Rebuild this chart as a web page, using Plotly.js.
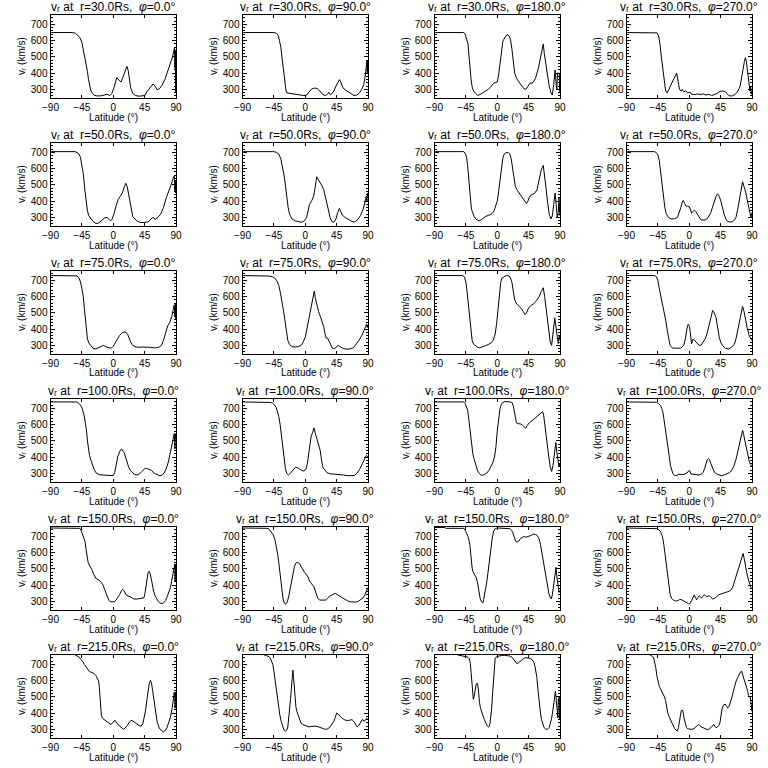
<!DOCTYPE html>
<html>
<head>
<meta charset="utf-8">
<script src="https://cdn.plot.ly/plotly-3.0.1.min.js"></script>
<style>html,body{margin:0;padding:0;background:#fff;}#chart{width:768px;height:768px;}</style>
</head>
<body>
<div id="chart"></div>
<script>
// ---- data: [latitude (deg), v_r (km/s)] ----
const radii = [30, 50, 75, 100, 150, 215];
const phis = [0, 90, 180, 270];
const latTicks = [-90, -45, 0, 45, 90];
const vTicks = [300, 400, 500, 600, 700];

const r30_phi0 = [[-90,650],[-58,650],[-54,645],[-51,635],[-48,620],[-45,590],[-43,545],[-40.5,500],[-38.5,440],[-37,410],[-35.5,360],[-34,320],[-32,290],[-30,275],[-27.5,265],[-24,260],[-18,260],[-13,265],[-9,270],[-5,262],[-2,275],[1,310],[3,345],[5,372],[8,358],[11,345],[14,375],[17,420],[19.5,442],[21.5,415],[23,365],[25,310],[28,275],[32,262],[37,258],[42,258],[45,262],[49,290],[53,315],[57,333],[60,320],[63,298],[66,303],[70,325],[74,360],[78,410],[82,455],[85,500],[87,540],[88,560],[88.5,430],[89,540],[89.5,280],[90,510]];
const r30_phi90 = [[-90,650],[-45,650],[-41,645],[-38.5,630],[-37,600],[-35,560],[-33.5,500],[-32,440],[-30.5,380],[-29,320],[-27.5,290],[-26,278],[-22,275],[-18,275],[-14,270],[-10,268],[-6,265],[-2,262],[2,265],[6,285],[9,302],[13,308],[17,306],[21,290],[25,268],[29,262],[32,270],[34,282],[36,268],[38,272],[41,290],[44,320],[47,350],[49,360],[51,345],[54,310],[58,295],[62,285],[66,270],[70,262],[74,265],[78,280],[81,300],[84,330],[86,380],[87.5,440],[88.5,475],[89,400],[89.5,480],[90,420]];
const r30_phi180 = [[-90,650],[-48,650],[-46,640],[-44,615],[-42,580],[-41,530],[-40,470],[-39,420],[-37.5,360],[-36,315],[-34,290],[-31,275],[-28,263],[-25,268],[-21,278],[-17,288],[-13,300],[-9,318],[-5,338],[-2,342],[0,345],[2,390],[4,470],[6,550],[8,595],[11,620],[14,638],[17,630],[19,605],[21,550],[23,470],[25,400],[28,365],[32,340],[36,318],[38,305],[41,300],[44,320],[47,338],[51,340],[55,370],[59,430],[62,500],[64.5,560],[66,580],[67.5,520],[70,440],[72,380],[74.5,320],[77,280],[79,265],[81,330],[83,420],[84.5,330],[85.5,300],[86.5,400],[89,400],[89.5,290],[90,275]];
const r30_phi270 = [[-90,650],[-50,650],[-46,648],[-44,630],[-42,580],[-40,500],[-38,420],[-36,340],[-34,295],[-32,278],[-29,300],[-25,340],[-21,380],[-18,400],[-16,350],[-14,300],[-12,290],[-10,300],[-8,285],[-5,290],[-2,278],[1,282],[4,270],[8,268],[12,272],[16,268],[20,272],[24,265],[28,270],[32,262],[36,268],[40,275],[44,288],[48,290],[52,285],[55,268],[58,260],[62,260],[66,270],[70,290],[73,320],[75,360],[77,420],[79,470],[80.5,495],[82,470],[84,400],[85.5,330],[87,290],[88,320],[89,270],[90,290]];

const r50_phi0 = [[-90,705],[-55,705],[-52,700],[-49,690],[-47,670],[-45,630],[-43,570],[-41,480],[-39,400],[-37,340],[-35,310],[-32,290],[-29,275],[-26,265],[-23,262],[-20,268],[-16,285],[-12,298],[-9,300],[-6,290],[-4,280],[-2,285],[1,320],[4,370],[7,410],[10,430],[13,450],[16,490],[18,510],[20,490],[22,440],[24,380],[26,330],[28,305],[31,290],[35,275],[40,268],[45,268],[50,272],[54,290],[57,300],[60,288],[64,300],[68,320],[72,360],[76,420],[80,460],[83,500],[86,540],[87.5,555],[88.5,460],[89.2,530],[89.6,450],[90,500]];
const r50_phi90 = [[-90,705],[-45,705],[-41,700],[-38,690],[-35,660],[-32,600],[-30,550],[-28.5,500],[-26.5,420],[-24.5,360],[-22.5,320],[-19,290],[-14,278],[-9,272],[-5,270],[-1,280],[2,300],[4,340],[6,380],[9,400],[12,430],[14,480],[16.5,550],[19,530],[21.5,515],[24,495],[26.5,470],[29,430],[31,400],[33,350],[35.5,300],[38,275],[41,270],[44,290],[46.5,330],[49,355],[51,335],[53,315],[57,300],[62,285],[67,275],[71,272],[75,285],[79,310],[83,350],[86,400],[87.5,430],[88.5,400],[89.5,450],[90,420]];
const r50_phi180 = [[-90,705],[-48,705],[-46,695],[-44,670],[-42.5,620],[-41,560],[-40,500],[-38.5,420],[-37,350],[-35,320],[-33,305],[-31,290],[-28.5,285],[-26,278],[-23,285],[-20,295],[-17,305],[-13,312],[-9,318],[-5,335],[-2,370],[0,400],[2,460],[4,540],[6,610],[8,665],[10,690],[13,700],[16,698],[18,690],[20,660],[22,600],[24,530],[26,490],[29,465],[32,445],[36,420],[39,400],[42,385],[44,400],[46,425],[49,440],[53,445],[57,470],[60,540],[63,590],[66,620],[68,560],[70,480],[72,400],[74.5,320],[77,290],[79,310],[81,380],[83,450],[84.5,380],[86,300],[87.5,330],[88.5,420],[89.5,340],[90,310]];
const r50_phi270 = [[-90,705],[-50,705],[-47.5,700],[-45,685],[-43,650],[-41,580],[-39,500],[-37,420],[-35,360],[-33,322],[-30,300],[-26,290],[-21,292],[-17,300],[-14,330],[-12,360],[-10,395],[-8.6,405],[-6.5,385],[-4.8,370],[-2,368],[0,365],[2,345],[3.3,325],[5,335],[7.2,345],[9.5,335],[12,320],[14.5,300],[16.7,285],[20,283],[23.9,285],[27,300],[31,330],[33.5,365],[36,400],[38.5,430],[40.6,445],[43,430],[45.4,400],[48,350],[50,320],[52.5,290],[55,275],[58,272],[62,272],[65,285],[67,300],[69.5,350],[71.7,400],[74,460],[76.5,520],[78.5,490],[81.3,450],[83.5,400],[86,350],[88.5,300],[90,330]];

const r75_phi0 = [[-90,730],[-55,730],[-52,728],[-49,715],[-47,690],[-45,650],[-43,600],[-41.5,530],[-40,450],[-38.5,380],[-37,340],[-35,315],[-32,295],[-29,282],[-25,278],[-21,285],[-17,295],[-14,300],[-11,292],[-7,285],[-3,282],[0,295],[3,320],[6,345],[9,360],[12,375],[15,382],[18,382],[21,365],[24,330],[27,305],[31,292],[36,288],[42,290],[48,290],[54,288],[58,285],[62,285],[66,290],[69,300],[72,330],[75,380],[78,420],[81,440],[84,480],[86.5,530],[87.5,550],[88.5,480],[89.3,560],[89.7,460],[90,520]];
const r75_phi90 = [[-90,730],[-58,730],[-52,727],[-47,722],[-44,715],[-41,700],[-38,670],[-35.5,620],[-33,570],[-31,510],[-29,450],[-27,380],[-25,330],[-22.5,305],[-19,292],[-14,290],[-10,292],[-6,300],[-3,320],[0,350],[3,420],[6,490],[9,560],[11,610],[13,635],[14.5,590],[16.5,550],[19,510],[21.5,480],[24,450],[26.5,415],[28.5,370],[30,345],[32,345],[34,325],[36.5,300],[39,283],[42,280],[45,288],[47.5,300],[50,292],[53,284],[58,277],[64,278],[69,285],[73,305],[77,330],[81,360],[85,400],[88,430],[89,410],[90,425]];
const r75_phi180 = [[-90,730],[-49,730],[-47,720],[-45,690],[-43.5,640],[-42,580],[-40.5,500],[-39,430],[-37.5,370],[-36,330],[-34,308],[-31,295],[-28,288],[-25,285],[-21,290],[-17,298],[-13,305],[-9,315],[-6,330],[-3,370],[-1,430],[1,520],[3,620],[5,690],[7,715],[10,725],[13,730],[17,728],[19,715],[21,690],[23,630],[25,580],[28,555],[31,545],[34,530],[37,510],[40,490],[42,500],[45,530],[48,545],[52,555],[56,575],[60,600],[63,630],[66,655],[68,600],[70,520],[72,450],[74,380],[76,320],[78,300],[80,380],[82.5,470],[84,420],[86,350],[87.5,310],[89,360],[90,330]];
const r75_phi270 = [[-90,730],[-50,730],[-47.5,725],[-45,700],[-43,650],[-40.5,600],[-38,550],[-35.5,500],[-33.5,450],[-31.5,390],[-30,350],[-27.5,300],[-24,283],[-18,282],[-12,283],[-8,300],[-5.5,340],[-3.5,400],[-1.5,430],[0.5,415],[2,370],[3.3,310],[5.7,340],[8,328],[10,318],[14,300],[17,302],[20,318],[23,340],[26,380],[28.7,420],[31,470],[33.5,515],[36,500],[38.5,470],[41,400],[43,350],[45.5,315],[48,298],[52,282],[57,278],[61,290],[64.5,305],[67,340],[69.5,390],[71.5,440],[73.5,490],[76.5,540],[78.5,510],[80,470],[83,410],[86,360],[88,340],[90,330]];

const r100_phi0 = [[-90,740],[-53,740],[-50,735],[-47,720],[-44.5,700],[-42,660],[-40,610],[-38.5,570],[-37,500],[-35.5,440],[-34,410],[-32,380],[-30,355],[-27,320],[-24,300],[-20,292],[-15,290],[-10,288],[-5,285],[0,286],[2,305],[3.5,330],[5,370],[6.5,405],[8.5,430],[10.5,445],[12,450],[14,440],[16,425],[18,395],[20,365],[22,340],[24.5,318],[27,305],[30,295],[34,290],[38,298],[41,312],[44,325],[46,332],[48,330],[51,325],[55,318],[59,300],[63,292],[67,285],[70,290],[73,302],[76,330],[79,370],[81.5,420],[84,470],[86,510],[87.5,545],[88.5,450],[89.2,545],[89.7,470],[90,520]];
const r100_phi90 = [[-90,740],[-55,740],[-50,737],[-47,733],[-44,722],[-41.5,705],[-39.5,680],[-38,650],[-36,600],[-34.5,540],[-33,480],[-31.5,410],[-30,360],[-28.5,330],[-26.5,300],[-24,290],[-21.5,300],[-19,315],[-16.5,330],[-14,338],[-11,335],[-8,325],[-5,318],[-2,315],[1,325],[3,360],[5,420],[7,490],[8.5,530],[10.5,550],[12.5,580],[14.5,545],[16.5,515],[19,480],[21.5,440],[23.5,380],[25.5,335],[28,322],[31,305],[35,298],[40,297],[45,296],[50,293],[55,290],[60,286],[65,284],[70,286],[74,300],[78,325],[82,360],[85,390],[87.5,410],[89,405],[90,400]];
const r100_phi180 = [[-90,740],[-48,740],[-46,730],[-44,710],[-42.5,690],[-41,640],[-39.5,580],[-38,520],[-36.5,460],[-35,420],[-33,385],[-31,350],[-28.5,320],[-26,300],[-23.5,290],[-21,288],[-18,293],[-15,302],[-12,318],[-9,340],[-6.5,365],[-4,400],[-2,460],[0,560],[2,640],[4,700],[6,725],[8,738],[11,742],[15,742],[19,740],[21.5,735],[23,715],[24.5,680],[26,640],[27.5,612],[30,606],[33,605],[36,598],[39,585],[41,578],[43,595],[46,612],[50,625],[54,640],[58,655],[62,670],[65,680],[66.5,660],[68,600],[70,530],[72,460],[74,400],[76,340],[78,312],[80,350],[82,420],[84,490],[85.5,430],[87,370],[88.5,340],[89.5,360],[90,350]];
const r100_phi270 = [[-90,740],[-50,740],[-47,738],[-44,730],[-41.5,720],[-39.5,700],[-38,680],[-36.5,640],[-35,600],[-33.5,560],[-32,520],[-30.5,460],[-28.5,400],[-27,350],[-25.3,320],[-23.5,298],[-21,288],[-18,287],[-15,295],[-12,294],[-9,292],[-6,298],[-3,302],[-1,315],[0.5,318],[2.5,296],[6,293],[10,292],[14,290],[17,295],[20,305],[22,330],[24,362],[26,385],[27.5,392],[29,385],[31,360],[33.5,330],[36,308],[39,298],[43,290],[46,285],[50,290],[54,298],[58,305],[61,320],[64,345],[67,385],[70,440],[73,500],[75,540],[76.5,565],[78,540],[80,495],[82,450],[84,410],[86,375],[88,355],[90,340]];

const r150_phi0 = [[-90,752],[-48,750],[-46.5,740],[-45,725],[-43.5,710],[-42,690],[-40.5,670],[-39,620],[-37.5,570],[-36,540],[-34.5,525],[-32.5,510],[-30.5,495],[-28.5,470],[-26.5,450],[-24.5,440],[-22,435],[-19.5,428],[-17,415],[-14.5,400],[-12.5,375],[-10.5,350],[-8.5,325],[-6.5,308],[-4,297],[-1,295],[1.5,298],[4,308],[7,325],[10,348],[12,368],[13.5,375],[15,368],[17,352],[19,338],[22,332],[25,328],[28,318],[31,314],[35,315],[38,318],[41,320],[44,322],[45.5,350],[47,400],[48.5,450],[50,478],[51.5,485],[53,470],[54.5,440],[56,400],[58,360],[60,335],[62,315],[64.5,300],[67,290],[70,285],[72.5,292],[75,305],[77.5,330],[80,360],[82,385],[84,430],[85.5,470],[87,510],[88.3,530],[88.8,420],[89.4,530],[90,440]];
const r150_phi90 = [[-90,752],[-55,750],[-52,745],[-49,730],[-46,710],[-43.5,680],[-41.5,640],[-39.5,590],[-38,540],[-36.5,480],[-35,420],[-33.5,360],[-32,320],[-30.5,295],[-28.7,283],[-27,288],[-25.5,300],[-23.5,335],[-21.5,380],[-19.5,430],[-17.5,480],[-15.5,515],[-13.5,535],[-12,540],[-10,538],[-8,532],[-6,515],[-3.5,495],[-1,478],[1.5,465],[4,450],[6,425],[8,412],[10.5,404],[12.5,390],[14,370],[16,340],[18,318],[21,308],[25,307],[29,308],[32,318],[35,333],[38,338],[41,345],[43,350],[45.5,342],[48,335],[52,325],[56,318],[60,305],[64,298],[68,295],[72,296],[76,300],[80,310],[83,322],[85.5,340],[87.5,360],[89,375],[90,385]];
const r150_phi180 = [[-90,755],[-75,755],[-74,750],[-48,750],[-46,738],[-44,720],[-42,700],[-40.5,675],[-39,640],[-38,590],[-37,545],[-36,505],[-34.5,480],[-33,470],[-31.5,458],[-30,445],[-28.5,420],[-27.3,390],[-26.2,350],[-24.5,318],[-22.5,298],[-20.8,290],[-19.5,310],[-18,340],[-16.5,380],[-15,420],[-13.5,470],[-12,525],[-10.5,590],[-9,640],[-7,695],[-5,735],[-3,748],[0,752],[5,752],[10,751],[14.5,750],[18,748],[20.5,738],[22.5,722],[24.5,695],[26.5,670],[28.5,665],[31,672],[33.5,688],[36,695],[38.5,700],[41,695],[44,698],[48,706],[52,714],[55,712],[57.5,705],[60,685],[62,650],[64,600],[66,530],[68,480],[70,440],[72,395],[74,350],[76,322],[77.5,315],[79,340],[80.5,380],[82,440],[83.2,480],[84.3,510],[85.3,460],[86.3,415],[87.5,375],[88.6,355],[89.5,365],[90,360]];
const r150_phi270 = [[-90,752],[-50,750],[-47,748],[-44,742],[-41.5,732],[-39.5,712],[-38,690],[-36.5,650],[-35,600],[-33.5,550],[-32,500],[-30.5,440],[-29,390],[-27.5,345],[-25.5,320],[-23.5,310],[-21,305],[-18.5,302],[-16,305],[-13.5,312],[-11,310],[-8.5,303],[-6,296],[-3,290],[-1,286],[0.5,285],[2,292],[3.5,305],[5.5,325],[7.2,340],[8.7,325],[10.5,310],[12.5,325],[14.3,335],[16,328],[17.7,320],[19.5,330],[21.5,340],[23,335],[25,328],[27,332],[28.7,336],[31,325],[33.5,315],[36.5,318],[39,328],[41.5,338],[45,345],[49,350],[53,356],[57,362],[60.5,372],[63,395],[65,425],[67,455],[69,485],[71,515],[73,545],[75,570],[77.3,595],[79,560],[80.5,515],[82.5,475],[84.5,440],[86.5,410],[88.5,385],[90,375]];

const r215_phi0 = [[-90,775],[-60,772],[-55,760],[-52,753],[-49,745],[-46.5,732],[-44,720],[-41.5,700],[-39,682],[-36.5,665],[-34,655],[-31,651],[-28,645],[-25,632],[-22.5,615],[-21,598],[-20,560],[-19,500],[-18,430],[-17,385],[-15.5,368],[-13,360],[-10,350],[-7,340],[-4,332],[-2,335],[0,348],[2.5,356],[5,338],[8,325],[11,313],[14.5,300],[17,308],[20,322],[23,345],[25.5,356],[28,352],[31,345],[34,333],[37,323],[40,320],[42.5,335],[44.5,370],[46.5,420],[48.5,490],[50.5,560],[52,590],[53.5,602],[55,580],[56.5,540],[58,490],[59.5,440],[61,395],[63,345],[66,308],[69,292],[72,285],[74.5,292],[77,310],[79.5,340],[82,375],[84.5,430],[86.5,500],[87.5,530],[88.3,500],[88.8,430],[89.4,530],[90,470]];
const r215_phi90 = [[-90,775],[-62,770],[-59.5,760],[-55,755],[-52,748],[-50,738],[-48,720],[-46.5,700],[-45,660],[-43.5,610],[-42,560],[-40.5,510],[-38.7,450],[-36.5,390],[-34.5,350],[-32.5,315],[-30.5,297],[-28.5,290],[-26.5,295],[-25,315],[-23.8,360],[-22.5,420],[-21,490],[-19.8,560],[-18.7,630],[-17.7,665],[-16.8,620],[-15.8,560],[-14.6,480],[-13.4,440],[-12,410],[-10,385],[-8,355],[-6,338],[-3.5,330],[-1,325],[2,318],[5,315],[8,318],[11,320],[14,320],[17,318],[20,315],[23,311],[26,305],[29,300],[32,303],[35,312],[38,328],[41,350],[43,372],[45,400],[47,395],[49.5,382],[52,372],[55,362],[58,356],[62,355],[65,358],[67,360],[69,352],[71,338],[73,322],[74.5,315],[76.5,322],[78.5,338],[80.5,355],[82,362],[84,350],[86,355],[88,368],[90,360]];
const r215_phi180 = [[-90,775],[-62,770],[-58,760],[-54,756],[-50,753],[-45,750],[-42,745],[-40,735],[-38.5,705],[-37.5,650],[-36.5,590],[-35.7,510],[-34.3,485],[-33.3,500],[-32.3,530],[-31.3,560],[-30.3,575],[-29.3,585],[-28.3,578],[-27.3,555],[-26.5,510],[-25.5,465],[-24,430],[-22.5,405],[-20.5,385],[-18.5,360],[-16.5,338],[-14.5,322],[-12.8,315],[-11.5,318],[-10.3,340],[-9,380],[-8,430],[-7,500],[-6,580],[-5,650],[-4,710],[-3,738],[-1,748],[2,752],[6,755],[10,756],[14.5,756],[18,752],[21,745],[23.5,732],[25.5,718],[27.8,707],[30,708],[32.5,718],[35,728],[38,737],[41,742],[44,741],[47,737],[50,730],[52.5,712],[54,690],[55.5,660],[56.8,620],[58,560],[59,510],[60.5,450],[62,400],[63.5,360],[65,335],[67,312],[69.5,302],[72,300],[74.3,310],[76,330],[77.6,360],[79,395],[80.5,430],[81.5,470],[82.5,505],[83.4,535],[84.2,500],[85,460],[86,410],[87,370],[87.5,480],[88,500],[89,500],[89.5,360],[90,400]];
const r215_phi270 = [[-90,775],[-60,770],[-56,757],[-53,750],[-51,740],[-49.5,715],[-48,680],[-46.5,630],[-45,595],[-43,565],[-41,548],[-39,530],[-37,518],[-35.5,500],[-34,478],[-32.5,440],[-31,405],[-29,380],[-27,360],[-25,340],[-23,322],[-21,305],[-19,296],[-17,290],[-15.5,310],[-14,350],[-12.8,395],[-11.5,415],[-10.4,420],[-9,410],[-7.5,370],[-6,335],[-4,312],[-2,303],[1,300],[4,300],[7,305],[9.5,315],[12,328],[13.5,332],[15,325],[17,315],[20,310],[23,305],[26,298],[28.5,302],[31,310],[33.5,322],[35.5,330],[37,318],[38.5,310],[40.5,315],[42.5,325],[44,340],[45.5,385],[47,425],[49,450],[51.5,456],[53.5,442],[55,432],[57,440],[59,465],[61,495],[63,530],[65,565],[67,595],[69,615],[71,635],[73,648],[75,660],[76.5,640],[78,610],[80,585],[82,560],[83.5,540],[85,510],[86,500],[87.5,500],[89,440],[90,410]];

const panels = [
  [r30_phi0, r30_phi90, r30_phi180, r30_phi270],
  [r50_phi0, r50_phi90, r50_phi180, r50_phi270],
  [r75_phi0, r75_phi90, r75_phi180, r75_phi270],
  [r100_phi0, r100_phi90, r100_phi180, r100_phi270],
  [r150_phi0, r150_phi90, r150_phi180, r150_phi270],
  [r215_phi0, r215_phi90, r215_phi180, r215_phi270]
];

// ---- layout ----
const W = 768, H = 768, cellW = 192, cellH = 128;
const plotL = 50.5, plotR = 176, plotT = 14.7, plotB = 97.5;
const FONT = 'Liberation Sans, Arial, DejaVu Sans, sans-serif';
const VR = 'v\u1d63';

const traces = [];
const layout = {
  width: W, height: H,
  margin: {l: 0, r: 0, t: 0, b: 0, pad: 0},
  paper_bgcolor: '#fff', plot_bgcolor: '#fff',
  showlegend: false,
  font: {family: FONT, size: 10, color: '#000'},
  annotations: []
};

radii.forEach((rad, r) => {
  phis.forEach((phi, c) => {
    const idx = r * 4 + c + 1;
    const sfx = idx === 1 ? '' : String(idx);
    const data = panels[r][c];
    traces.push({
      type: 'scatter', mode: 'lines',
      x: data.map(p => p[0]), y: data.map(p => p[1]),
      xaxis: 'x' + sfx, yaxis: 'y' + sfx,
      line: {color: '#000', width: 1},
      hoverinfo: 'skip'
    });
    const x0 = (c * cellW + plotL) / W, x1 = (c * cellW + plotR) / W;
    const yTop = 1 - (r * cellH + plotT) / H, yBot = 1 - (r * cellH + plotB) / H;
    const common = {
      showline: true, linecolor: '#000', linewidth: 1, mirror: 'ticks',
      ticks: 'inside', tickcolor: '#000', tickwidth: 1,
      showgrid: false, zeroline: false, fixedrange: true,
      tickfont: {family: FONT, size: 10, color: '#000'}
    };
    layout['xaxis' + sfx] = Object.assign({}, common, {
      domain: [x0, x1], anchor: 'y' + sfx, range: [-90, 90],
      tickmode: 'array', tickvals: latTicks, ticklen: 3
    });
    layout['yaxis' + sfx] = Object.assign({}, common, {
      domain: [yBot, yTop], anchor: 'x' + sfx, range: [250, 760],
      tickmode: 'array', tickvals: vTicks, ticklen: 4,
      minor: {tickmode: 'linear', tick0: 300, dtick: 20, ticks: 'inside', ticklen: 2, tickcolor: '#000', tickwidth: 1}
    });
    const cx = (c * cellW + (plotL + plotR) / 2) / W;
    layout.annotations.push({
      xref: 'paper', yref: 'paper', x: cx, y: 1 - (r * cellH + 7) / H,
      xanchor: 'center', yanchor: 'middle', showarrow: false,
      text: VR + ' at  r=' + rad.toFixed(1) + 'Rs,  <i>\u03c6</i>=' + phi.toFixed(1) + '\u00b0',
      font: {family: FONT, size: 12, color: '#000'}
    });
    layout.annotations.push({
      xref: 'paper', yref: 'paper', x: cx, y: 1 - (r * cellH + 117) / H,
      xanchor: 'center', yanchor: 'middle', showarrow: false,
      text: 'Latitude (\u00b0)',
      font: {family: FONT, size: 10, color: '#000'}
    });
    layout.annotations.push({
      xref: 'paper', yref: 'paper', x: (c * cellW + 21) / W, y: 1 - (r * cellH + (plotT + plotB) / 2) / H,
      xanchor: 'center', yanchor: 'middle', showarrow: false, textangle: -90,
      text: VR + ' (km/s)',
      font: {family: FONT, size: 10, color: '#000'}
    });
  });
});

Plotly.newPlot('chart', traces, layout, {displayModeBar: false, staticPlot: true});
</script>
</body>
</html>
